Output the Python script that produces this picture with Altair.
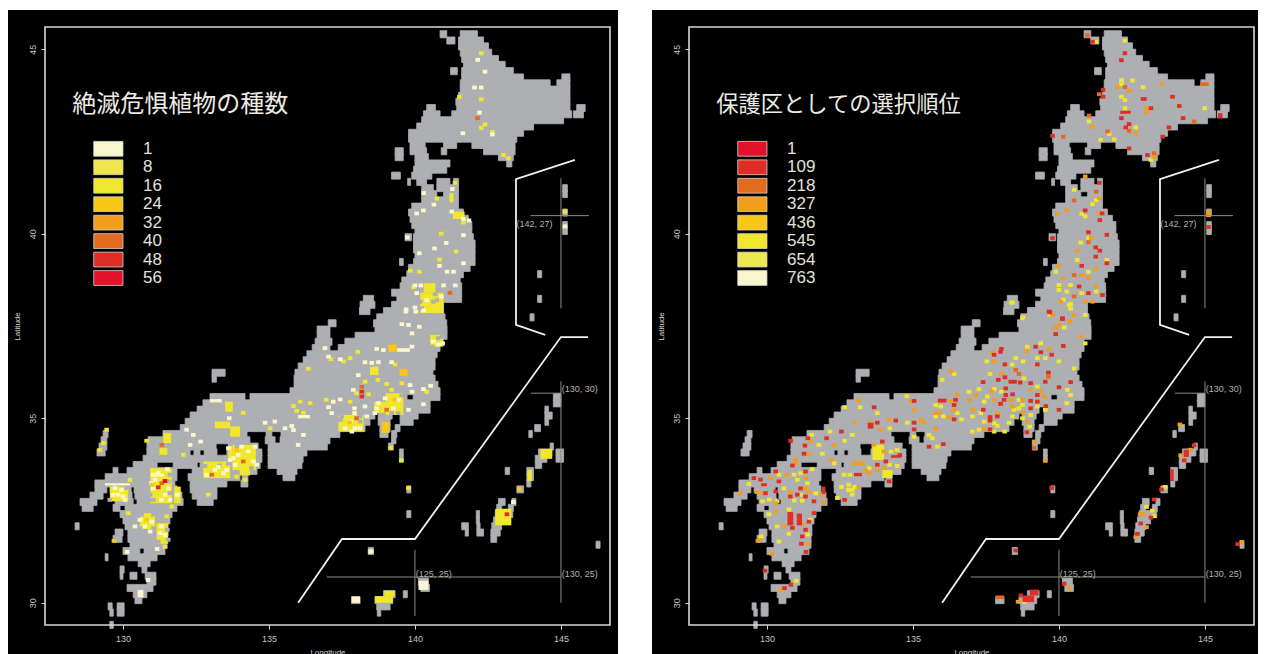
import altair as alt
import pandas as pd

# ---- land: (northern latitude of the band, [(west lon, east lon), ...]) ----
LAND = [
(45.5,[(141.55,142.14),(140.86,141.09)]),(45.33,[(141.49,142.35),(141.09,141.37)]),(45.17,[(141.49,142.52)]),
(45.0,[(141.55,142.63)]),(44.83,[(141.6,142.86)]),(44.67,[(141.66,143.09)]),(44.5,[(141.6,143.37),(141.22,141.45)]),
(44.33,[(141.6,143.72),(145.03,145.31)]),(44.17,[(141.55,144.63),(144.86,145.31)]),(44.0,[(141.55,145.31)]),
(43.83,[(141.49,145.31)]),(43.67,[(141.4,145.31)]),(43.5,[(141.43,145.31),(145.54,145.83),(140.4,140.7)]),
(43.33,[(140.29,140.86),(141.26,145.37),(145.43,145.77)]),(43.17,[(140.23,145.09)]),(43.0,[(140.06,144.06)]),
(42.83,[(139.78,143.72)]),(42.67,[(139.78,143.49)]),(42.5,[(139.83,140.35),(140.98,141.43),(141.95,143.43)]),
(42.33,[(139.83,140.4),(140.9,141.09),(142.35,143.43),(139.32,139.6)]),(42.17,[(140.0,140.46),(142.86,143.37),(139.32,139.6)]),
(42.0,[(140.0,141.2),(143.14,143.32)]),(41.83,[(139.95,141.09)]),(41.67,[(139.89,140.58),(139.2,139.5)]),
(41.5,[(140.06,140.4),(140.75,141.2),(141.32,141.49),(139.75,139.85)]),(41.33,[(140.23,140.63),(140.75,141.49),(145.06,145.22)]),
(41.17,[(140.23,140.75),(140.98,141.49),(145.06,145.22)]),(41.0,[(140.23,141.49)]),(40.83,[(139.89,141.49)]),
(40.67,[(139.78,141.66),(145.06,145.22)]),(40.5,[(139.83,141.83)]),(40.33,[(139.89,141.95),(145.06,145.22)]),
(40.17,[(140.0,141.95),(145.06,145.22)]),(40.0,[(139.66,139.89),(139.95,142.0)]),(39.83,[(139.95,142.06)]),
(39.67,[(139.95,142.06)]),(39.5,[(140.0,142.06)]),(39.33,[(139.95,142.06),(139.47,139.6)]),(39.17,[(139.78,141.89)]),
(39.0,[(139.72,141.66),(144.2,144.34)]),(38.83,[(139.55,141.55)]),(38.67,[(139.49,141.6)]),(38.5,[(139.43,141.6),(139.2,139.43)]),
(38.33,[(139.38,141.6),(138.23,138.58),(144.2,144.34)]),(38.17,[(139.2,140.98),(138.12,138.63)]),(38.0,[(138.92,140.98),(138.1,138.46)]),
(37.83,[(138.69,141.03),(143.94,144.08)]),(37.67,[(138.58,141.09),(137.03,137.3)]),
(37.5,[(136.65,137.09),(138.63,141.1)]),(37.33,[(136.65,137.09),(137.95,141.1)]),(37.17,[(136.58,137.16),(137.6,140.86)]),
(37.0,[(136.48,137.09),(137.37,140.86)]),(36.83,[(136.3,140.76)]),(36.67,[(136.17,140.69)]),(36.5,[(136.0,140.69)]),
(36.33,[(135.89,140.62),(133.05,133.5)]),(36.17,[(135.86,140.69),(133.05,133.2)]),(36.0,[(135.86,140.79)]),(35.83,[(135.72,140.86)]),
(35.67,[(132.98,134.18),(134.35,139.73),(139.94,140.86),(144.74,145.0)]),(35.5,[(132.74,140.52),(144.74,145.0)]),
(35.33,[(132.54,139.32),(139.49,140.52),(144.45,144.57)]),(35.17,[(132.3,138.63),(138.74,139.22),(139.49,140.11),(144.45,144.7)]),
(35.0,[(132.13,138.46),(138.74,139.15),(139.49,139.94),(144.45,144.58)]),(34.83,[(131.96,138.29),(138.8,139.15),(139.32,139.49),(144.1,144.3)]),
(34.67,[(129.32,129.49),(131.37,134.25),(134.9,135.1),(135.41,137.43),(138.8,139.08),(139.2,139.38),(143.9,144.02)]),
(34.5,[(129.25,129.45),(130.86,134.35),(134.87,135.21),(135.38,137.09),(139.2,139.35)]),
(34.33,[(129.18,129.45),(130.82,133.19),(133.6,134.63),(134.97,137.0),(139.09,139.26),(144.63,144.74)]),
(34.17,[(129.11,129.39),(130.82,132.3),(132.43,132.64),(132.78,133.22),(133.56,134.76),(134.97,136.3),(144.23,144.69),(144.83,145.09),(139.47,139.6)]),
(34.0,[(130.69,134.76),(134.97,136.17),(144.12,144.52),(144.83,145.09),(139.47,139.6)]),
(33.83,[(130.35,131.17),(131.72,132.54),(132.64,134.7),(134.97,136.13),(144.12,144.34)]),
(33.67,[(129.66,129.83),(130.14,131.85),(132.37,134.59),(135.28,135.96),(143.83,144.06),(143.09,143.24)]),
(33.5,[(129.39,131.85),(132.23,134.01),(134.08,134.28),(135.48,135.89),(143.83,144.06)]),
(33.33,[(129.04,131.78),(132.3,133.56),(134.04,134.28),(143.83,143.97)]),
(33.17,[(129.04,129.45),(129.56,130.28),(130.38,131.85),(132.3,133.22),(139.72,139.86),(143.49,143.72)]),
(33.0,[(128.87,129.32),(129.66,130.31),(130.41,132.02),(132.37,133.22)]),
(32.83,[(128.53,129.11),(129.73,130.35),(130.48,132.06),(132.54,133.09),(142.86,143.09),(143.32,143.46)]),
(32.67,[(128.6,128.98),(129.66,129.9),(130.07,131.85),(142.8,142.97),(143.2,143.37)]),
(32.5,[(129.9,131.68),(139.72,139.86),(142.75,143.35),(142.1,142.21)]),
(32.33,[(130.0,131.61),(142.69,143.14),(142.1,142.21)]),
(32.17,[(130.07,131.54),(128.36,128.5),(142.63,142.97),(141.6,141.83),(142.12,142.23)]),
(32.0,[(130.17,131.54),(129.73,130.0),(142.6,142.92),(141.72,141.83),(142.12,142.35)]),
(31.83,[(130.17,131.51),(129.66,129.97),(142.6,142.8)]),(31.67,[(130.24,131.51),(146.2,146.34)]),
(31.5,[(130.0,130.58),(130.72,131.44),(138.4,138.58)]),(31.33,[(130.17,131.17),(129.39,129.49)]),
(31.17,[(130.52,130.93)]),(31.0,[(130.65,130.82),(129.9,130.04)]),(30.83,[(129.9,130.0),(130.24,130.48),(130.76,131.13)]),
(30.67,[(130.82,131.13),(140.12,140.46)]),(30.5,[(130.14,131.03),(140.2,140.5)]),
(30.33,[(130.35,130.82),(139.6,139.74),(138.92,139.32)]),(30.17,[(130.41,130.65),(137.83,138.12),(138.63,139.24)]),
(30.0,[(129.8,130.04),(129.49,129.63),(138.69,139.15)]),(29.83,[(129.8,130.04),(129.55,129.67),(138.71,138.83)]),
(29.5,[(129.55,129.67)]),
]

# ---- left panel: number of endangered species, cells (lon, lat) by class ----
L_PALE = [(142.15,44.71),(142.4,44.39),(142.04,43.96),(142.27,43.96),(142.21,43.28),(141.64,42.72),(142.65,42.69),
(140.3,41.1),(141.28,41.21),(140.65,40.79),(140.29,40.63),(140.06,40.55),(141.26,40.6),(141.66,40.4),(141.85,40.36),(141.66,39.96),
(139.74,39.9),(141.07,39.75),(140.67,39.6),(140.15,39.47),(141.66,39.2),(140.84,39.13),(141.1,38.97),(141.32,38.97),(140.0,38.6),(140.2,38.6),
(140.98,38.6),(141.38,38.6),(139.7,37.95),(140.0,38.0),(139.69,37.89),(140.03,37.89),(139.55,37.55),(139.78,37.53),(140.15,37.48),(139.9,37.3),
(138.69,36.88),(138.92,36.85),(139.9,36.94),(137.04,36.67),(137.44,36.6),(136.92,36.9),(138.29,36.52),(138.52,36.5),(138.75,36.52),(139.2,36.52),
(138.06,36.17),(137.89,35.77),(139.83,35.9),(139.9,35.72),(140.29,35.79),(140.54,35.88),(137.44,35.51),(137.2,35.45),(137.04,35.3),(137.15,35.14),
(138.29,35.32),(137.93,35.27),(137.93,35.14),(140.29,35.38),(139.78,35.23),(138.35,35.05),(134.87,34.88),(135.2,34.91),(135.55,34.73),(135.78,34.79),
(135.84,34.68),(136.18,34.55),(136.0,34.28),(133.64,35.0),(132.18,34.69),(132.41,34.55),(132.3,34.28),(132.66,34.37),(130.41,32.07),(130.93,31.93),
(130.14,31.38),(131.17,31.46),(130.86,30.62),(145.14,40.2),(143.37,32.73),
(133.78,33.92),(133.95,34.01),(134.29,34.1),(134.47,33.83),(134.52,34.23),(133.67,33.87),(134.07,34.23),(133.84,33.74),(134.58,33.74),(133.61,34.19),
(133.27,33.68),(133.44,33.51),(132.87,33.47),(133.15,33.6),(133.55,33.6),
(131.04,33.47),(131.21,33.53),(130.98,33.24),(131.04,33.1),(131.55,33.1),(131.44,32.93),(131.32,32.79),(131.61,32.79),(131.1,33.33),(131.52,33.62),(131.86,32.93),
(129.84,32.93),(130.0,32.88),(129.73,33.11),(129.95,33.06),(130.07,32.79),(129.67,32.93),
(130.98,32.2),(130.75,32.07),(130.58,32.25),(131.32,32.07),(131.44,31.84),(131.27,31.89),
(138.69,35.27),(138.63,35.14),(138.75,35.41),(138.98,35.54),(139.43,35.5),(139.26,35.27),
(137.78,34.91),(137.61,34.73),(137.95,34.73),(138.12,34.73),(137.84,34.64),
(140.63,37.08),(140.8,37.0),(140.95,37.03),(140.06,38.39),(140.4,38.2),(140.9,38.3),(140.3,37.92)]
L_PALE_BLOCKS = [(132.98,133.38,35.43,35.52),(139.38,139.83,36.8,36.9),(136.0,136.4,35.0,35.09),(130.5,130.7,30.15,30.35),
(131.0,131.4,33.42,33.5),(129.38,130.24,33.18,33.24),
(138.4,138.58,31.33,31.45),(140.12,140.46,30.35,30.6),(137.83,138.12,30.0,30.17)]
L_Y8 = [(142.27,44.89),(141.52,43.71),(142.27,43.64),(142.4,42.96),(142.27,42.87),(142.65,42.76),(143.03,42.13),(143.2,42.04),(141.37,41.38),(140.75,40.95),(140.9,40.0),
(139.95,38.55),(140.15,38.97),(139.84,39.0),(141.41,39.52),(140.84,39.3),(141.66,40.3),(138.04,36.8),(137.78,36.63),(137.55,36.54),(137.12,36.6),(139.32,36.46),(136.35,36.34),
(138.29,35.99),(138.73,36.04),(139.03,35.93),(139.55,35.95),(138.0,35.68),(138.41,35.65),(139.2,35.77),(140.4,35.72),(137.78,35.45),(136.96,35.5),
(135.04,34.73),(135.84,35.33),(136.07,35.45),(136.41,35.41),(134.12,35.15),(130.81,34.39),(132.07,34.01),(134.18,33.33),(133.89,33.42),(132.92,32.93),
(130.24,33.33),(130.18,32.43),(131.5,32.34),(131.67,32.61),(129.33,34.33),(129.21,34.14),(129.44,34.69),(131.44,31.52),(139.17,34.2),(139.53,33.86),(139.78,33.11),(145.14,40.6),(136.18,35.15),(135.95,35.2)]
L_Y_BLOCKS = [(140.18,140.98,37.85,38.4),(140.3,140.7,38.4,38.66),(140.52,140.98,36.94,37.26),(141.3,141.7,40.4,40.6),(141.18,141.32,40.85,41.1),(138.46,138.75,36.17,36.4),
(139.0,139.6,35.09,35.68),(138.6,139.0,35.15,35.45),(137.38,138.24,34.64,35.09),(133.5,133.76,35.18,35.45),(133.15,133.67,34.73,34.91),(133.67,134.01,34.5,34.78),(131.38,131.65,34.33,34.6),
(131.25,131.52,34.01,34.19),(133.75,134.55,33.6,34.28),(133.6,133.75,33.85,34.25),(134.0,134.35,33.45,33.6),(132.75,133.67,33.38,33.83),(130.93,131.67,32.7,33.65),(131.75,131.98,32.7,33.15),(129.55,130.18,32.75,33.15),
(130.58,131.1,32.0,32.43),(131.15,131.55,31.6,32.16),(144.3,144.7,33.9,34.17),(143.85,144.0,33.3,33.6),(142.75,143.3,32.1,32.55),(138.63,139.24,30.0,30.18),(138.95,139.3,30.18,30.33)]
# grey gaps left inside the clusters above
L_GAPS = [(133.3,33.72),(132.81,33.71),(133.61,33.77),(131.61,33.47),(130.93,32.93),(131.61,32.97),(130.93,32.79),(131.04,32.79),(131.55,33.29),
(129.55,32.79),(130.13,33.11),(131.04,32.39),(130.6,32.02),(131.04,32.02),(130.64,32.39),(131.52,31.98),(131.21,31.66),(131.55,31.71),
(139.43,35.14),(139.2,35.14),(139.55,35.62),(137.49,35.05),(138.12,35.05),(138.0,35.0),(137.44,34.96),(138.12,34.91),
(140.8,37.17),(140.58,36.94),(140.92,37.21),(140.63,38.16),(140.75,38.2),(140.69,38.36),(140.18,38.16),(140.23,37.98),(134.4,33.65),(133.9,34.25)]
L_AMBER = [(130.81,32.25),(129.69,31.68),(133.9,34.14),(131.0,33.2),(143.57,33.08),(139.3,35.5),(137.76,34.89)]
L_AMBER_BLOCKS = [(139.09,139.38,36.8,37.0),(139.47,139.75,36.15,36.34),(138.86,139.13,34.6,34.9)]
L_ORANGE = [(142.14,43.13),(138.18,35.85),(141.2,38.4),(139.03,35.23),(131.33,34.28),(134.12,33.83),(133.04,33.47),(131.33,33.24),(138.0,35.0)]
L_RED = [(138.18,35.72),(138.18,35.59),(131.21,33.13),(143.15,32.4)]
L_CRIMSON = [(131.44,33.3)]

# ---- right panel: selection order of protected areas ----
R_RED = [(141.15,45.2),(142.26,44.89),(142.14,44.7),(141.51,43.9),(141.51,43.71),(143.89,43.71),(144.12,43.46),(143.15,43.4),(142.14,43.13),(144.25,43.13),(142.4,42.97),(142.29,42.88),
(143.77,42.88),(143.55,42.63),(142.4,42.31),(143.03,42.13),(139.78,42.65),(141.38,41.38),(140.9,40.63),(141.4,40.37),(141.48,40.55),(141.01,40.04),(141.64,39.97),(139.78,39.88),(141.26,39.63),
(141.4,39.54),(141.26,39.38),(141.64,39.2),(140.78,39.13),(140.69,38.57),(141.01,38.39),(141.49,38.34),(139.66,37.89),(140.12,37.69),
(139.69,37.87),(140.12,37.71),(139.89,37.28),(140.15,36.96),(139.2,36.94),(139.38,36.79),(139.75,36.72),(139.26,36.46),(138.03,36.88),(138.0,36.8),(137.78,36.72),(138.15,36.46),
(137.4,35.98),(137.92,36.04),(138.15,36.11),(138.35,35.99),(138.48,35.99),(138.67,35.97),(139.64,36.24),(139.53,35.99),(139.03,35.95),(140.4,35.98),
(138.18,35.81),(138.18,35.63),(138.12,35.5),(138.41,35.65),(138.0,35.39),(137.41,35.23),(137.89,35.05),(137.64,35.03),(137.64,34.94),(137.64,34.7),
(139.03,35.47),(139.26,35.63),(139.26,35.45),(139.03,35.27),(139.55,35.33),(138.9,34.62),(140.0,35.84),(140.0,35.23),
(136.07,35.48),(135.93,35.48),(136.46,35.5),(136.41,35.36),(136.41,34.97),(135.04,35.47),(135.04,34.88),(135.04,34.7),(136.04,34.3),(135.55,34.23),
(133.67,35.3),(134.41,34.94),(133.78,34.88),(132.55,34.64),(132.04,34.46),(131.4,34.46),(131.3,34.26),(130.81,34.39),(131.27,34.04),(130.87,33.72),
(133.95,34.37),(134.07,33.83),(133.78,33.74),(134.18,33.29),(134.55,34.0),(129.55,33.38),(129.78,33.34),(130.3,33.56),(130.41,33.29),(131.32,33.56),(131.15,33.1),(131.04,32.93),(130.8,32.88),(131.32,32.88),(131.61,32.75),
(129.95,32.97),(130.3,33.02),(131.61,32.43),(131.44,32.2),(131.32,31.98),(131.21,31.8),(131.18,31.6),(130.87,32.03),(132.66,32.79),
(131.34,31.38),(129.93,30.87),(130.6,30.4),(130.82,30.49),(139.75,33.11),(144.63,34.27),(144.29,33.86),(143.51,33.07),(143.26,32.8),(143.15,32.31),(142.8,32.15),(142.69,31.87),(146.12,31.59),(138.52,31.42),(140.18,30.52),(145.12,40.18),(138.7,30.2)]
R_RED_BLOCKS = [(142.8,143.0,43.6,43.7),(142.1,142.46,43.25,43.33),(145.45,145.6,43.13,43.27),(133.45,133.65,34.72,34.88),(134.25,134.58,33.93,34.0),(129.8,130.0,33.16,33.24),(131.88,132.0,32.95,33.15),
(132.98,133.25,33.43,33.52),(130.7,130.9,32.1,32.46),(131.02,131.2,32.1,32.42),(144.27,144.45,33.95,34.15),(143.81,143.93,33.3,33.62),(138.75,139.15,30.02,30.2),(139.0,139.3,30.2,30.36)]
R_ORANGE = [(140.98,45.38),(142.26,43.97),(141.38,43.78),(144.63,43.04),(141.03,43.2),(142.4,42.79),(141.66,42.77),(143.26,42.18),(140.15,42.63),(141.28,41.14),(140.52,40.9),(141.01,39.77),(140.52,38.88),(140.52,38.3),
(138.52,36.31),(138.63,36.2),(139.64,36.13),(139.15,34.2)]
R_ORANGE_BLOCKS = [(144.83,145.13,44.0,44.1),(137.84,138.12,30.1,30.2)]
R_AMBER = [(143.51,44.05),(142.0,43.97),(142.4,43.87),(143.0,43.4),(143.0,43.29),(141.15,42.9),(142.63,42.72),(143.26,42.07),(140.9,41.55),(141.38,40.96),(140.27,40.63),(141.4,40.55),(139.95,40.54),(141.11,39.88),
(140.63,39.54),(139.98,39.13),(141.28,39.05),(140.78,38.88),(140.15,38.79),(141.01,38.8),(141.26,38.57),(140.9,38.16),(139.78,37.8),(140.52,37.8),(140.0,37.53),
(140.06,38.16),(141.15,38.16),(140.37,37.62),(139.89,37.46),(140.75,37.21),(138.89,36.82),(139.66,36.87),(137.72,36.78),(137.78,36.54),(136.3,36.28),(138.03,36.2),
(138.35,35.5),(137.15,35.63),(137.69,35.73),(136.92,35.5),(137.78,35.5),(137.04,35.23),(137.89,35.14),(137.44,34.73),(138.41,35.32),
(138.75,35.5),(139.03,35.77),(139.49,35.59),(139.38,35.73),(138.77,35.15),(138.92,34.9),(135.04,35.22),(134.92,35.47),(135.27,34.95),(135.36,34.89),
(135.9,35.14),(135.78,35.14),(136.3,35.45),(136.52,35.64),(136.41,35.22),(136.23,35.02),(135.78,34.71),
(133.12,35.48),(134.18,34.97),(133.0,34.88),(133.55,34.88),(133.89,34.69),(132.3,34.28),(131.5,34.37),(131.45,34.04),(132.2,33.88),(130.99,33.88),(130.98,33.78),
(133.66,34.28),(134.0,34.1),(134.0,33.65),(133.38,33.58),(133.5,33.51),(133.78,33.6),(132.98,33.78),(133.15,33.78),(133.28,33.78),(133.15,33.14),(130.13,33.38),(130.68,33.47),(131.33,33.38),(131.32,33.1),(130.81,33.0),(131.44,33.0),
(131.88,32.92),(131.95,32.72),(129.67,33.0),(129.87,32.97),(129.08,32.97),(130.3,32.7),(130.3,32.47),(130.58,32.07),(131.2,32.14),(131.4,31.6),(129.69,31.68),(130.17,31.33),(129.73,31.7),(130.48,30.35),
(139.15,34.37),(139.53,33.86),(144.14,34.83),(144.5,34.15),(144.17,34.0),(142.9,32.4),(142.78,32.4),(143.0,32.05),(142.63,31.78),(146.26,31.65),(140.35,30.41),(138.6,30.03),(145.12,40.6),(145.12,40.5)]
R_YELLOW = [(141.26,45.2),(142.26,45.23),(142.14,44.16),(142.14,44.05),(142.52,44.15),(142.88,43.97),(142.14,43.71),(142.26,43.62),(144.99,43.4),(142.26,43.4),(141.03,43.04),(142.63,42.88),(141.72,42.7),(141.43,42.54),(141.89,42.56),(143.15,42.0),
(140.52,41.19),(141.28,40.91),(141.15,40.8),(140.9,40.47),(140.78,40.54),(141.01,39.88),(140.75,39.76),(140.63,39.29),(141.64,39.29),(139.89,38.97),(141.01,38.97),(140.0,38.61),(140.0,38.48),(140.4,38.61),(140.27,38.43),(140.78,38.39),(141.28,38.43),(140.15,38.21),(140.4,38.1),(140.4,37.97),(138.38,38.14),(138.75,37.71),(140.9,37.8),
(138.41,38.13),(138.77,37.74),(139.69,37.8),(140.35,38.07),(140.18,37.46),(140.9,37.03),(139.38,37.03),(138.92,36.94),(139.53,36.63),(139.26,36.63),(140.0,36.54),(137.53,36.54),(138.52,36.63),(138.77,36.54),(138.4,36.46),(136.41,36.2),(136.0,36.04),(137.64,36.2),(138.8,36.08),(140.52,36.35),
(138.03,35.72),(137.78,35.79),(137.26,35.79),(136.92,35.72),(137.55,35.59),(137.44,35.45),(137.32,35.14),(137.04,35.05),(137.44,34.91),(137.78,34.87),(137.89,34.8),(137.26,34.69),(137.04,34.64),(138.14,34.64),(137.78,34.64),(138.29,34.88),(138.41,35.05),(138.46,35.23),
(138.63,35.5),(139.26,35.86),(138.75,35.36),(138.63,35.27),(139.26,35.32),(139.03,35.09),(138.75,35.0),(139.0,34.77),(140.29,35.77),(140.4,35.63),(140.27,35.41),(139.53,35.23),
(135.78,35.36),(135.95,35.32),(135.78,35.05),(136.04,35.05),(136.52,35.14),(136.66,34.97),(134.79,35.6),(134.81,34.88),(135.55,34.55),(135.66,34.46),(135.84,34.23),(135.04,34.5),
(132.66,35.3),(133.19,35.3),(133.78,35.14),(132.16,34.64),(132.92,34.55),(134.21,34.73),(132.66,34.39),(131.78,34.28),(131.53,34.55),(131.9,34.04),(132.3,33.78),
(134.25,34.1),(134.46,34.14),(134.2,33.74),(134.46,33.71),(132.84,33.47),(132.64,33.47),(133.5,33.65),(132.55,33.14),(133.0,33.14),(132.41,32.84),(132.92,32.93),(132.8,33.2),
(130.41,33.47),(130.93,33.47),(131.15,33.51),(131.55,33.62),(131.38,33.24),(131.04,33.33),(131.15,32.93),(130.93,32.77),(131.21,32.77),(131.67,32.97),(130.58,33.1),(129.38,33.22),(130.35,32.75),(129.85,32.75),(130.08,32.8),
(130.07,32.4),(130.75,32.53),(130.35,32.07),(131.48,32.25),(131.4,31.85),(130.75,31.87),(130.41,31.66),(129.8,31.8),(131.0,30.6),(143.64,33.14),(143.0,32.6),(143.2,32.5),(143.26,32.35),(138.82,30.03)]
R_Y_BLOCKS = [(133.61,134.01,33.87,34.28),(133.95,134.3,33.38,33.6),(132.72,133.0,33.0,33.12)]

LEFT_VALUES = [1, 8, 16, 24, 32, 40, 48, 56]
RIGHT_VALUES = [1, 109, 218, 327, 436, 545, 654, 763]
RAMP = ["#fbf6cd", "#efe74f", "#f0e62c", "#f6c717", "#f29d1e", "#e46a22", "#df2e25", "#df1229"]
RIGHT_RAMP = list(reversed(RAMP))
LEGEND_LATS = [42.5, 42.0, 41.5, 41.0, 40.5, 40.0, 39.5, 39.0]
GRAY = "#adafb2"
INK = "#d8d8d2"
LON_DOMAIN = [127.33, 146.68]
LAT_DOMAIN = [29.4, 45.6]
LON_TICKS = [130, 135, 140, 145]
LAT_TICKS = [30, 35, 40, 45]

INSET_LINES = {
    "a": [(145.48, 42.0), (143.46, 41.48), (143.46, 37.53), (144.46, 37.26)],
    "b": [(145.93, 37.2), (145.0, 37.2), (140.0, 31.73), (137.5, 31.73), (136.0, 30.0)],
}
CROSS_LINES = [(145.0, 37.98, 145.0, 41.5), (143.96, 40.49, 145.96, 40.49), (145.0, 30.0, 145.0, 36.0),
               (143.97, 35.68, 145.0, 35.68), (136.98, 30.7, 145.0, 30.7), (140.0, 29.64, 140.0, 31.44)]
CROSS_LABELS = [(143.48, 40.27, "(142, 27)"), (145.03, 35.78, "(130, 30)"), (140.03, 30.78, "(125, 25)"), (145.03, 30.78, "(130, 25)")]

land_df = pd.DataFrame([dict(w=a, e=b, s=lat - 1/6 - 0.025, n=lat) for lat, runs in LAND for a, b in runs])
inset_df = pd.DataFrame([dict(lon=p[0], lat=p[1], g=k, i=i) for k, pts in INSET_LINES.items() for i, p in enumerate(pts)])
cross_df = pd.DataFrame(CROSS_LINES, columns=["w", "s", "e", "n"])
label_df = pd.DataFrame(CROSS_LABELS, columns=["lon", "lat", "t"])


def cell_rows(groups):
    rows = []
    for cls, cells, blocks in groups:
        for lon, lat in cells:
            rows.append(dict(w=lon - 0.078, e=lon + 0.078, s=lat - 0.052, n=lat + 0.052, c=cls))
        for w, e, s, n in blocks:
            rows.append(dict(w=w, e=e, s=s, n=n, c=cls))
    return pd.DataFrame(rows)


def X(f):
    return alt.X(f, type="quantitative", scale=alt.Scale(domain=LON_DOMAIN, nice=False, zero=False),
                 axis=alt.Axis(values=LON_TICKS, title="Longitude", grid=False, domain=False, zindex=2,
                               tickColor=INK, labelColor="#c4c4be", titleColor=INK, labelFontSize=9, titleFontSize=8,
                               labelFont="Liberation Sans", titleFont="Liberation Sans", titleFontWeight="normal",
                               tickSize=4, labelPadding=5, titlePadding=5, labelFlush=False))


def Y(f):
    return alt.Y(f, type="quantitative", scale=alt.Scale(domain=LAT_DOMAIN, nice=False, zero=False),
                 axis=alt.Axis(values=LAT_TICKS, title="Latitude", grid=False, domain=False, zindex=2,
                               tickColor=INK, labelColor="#c4c4be", titleColor=INK, labelFontSize=9, titleFontSize=8,
                               labelFont="Liberation Sans", titleFont="Liberation Sans", titleFontWeight="normal",
                               labelAngle=270, labelAlign="center", labelBaseline="bottom",
                               tickSize=4, labelPadding=4, titlePadding=7, labelFlush=False))


def panel(title, tsize, values, ramp, groups, bg_w):
    domain = list(range(9))
    color = alt.Color("c:N", scale=alt.Scale(domain=domain, range=ramp + [GRAY]), legend=None)
    black = alt.Chart(pd.DataFrame({"a": [0]})).mark_rect(color="black").encode(
        x=alt.value(-37), x2=alt.value(bg_w), y=alt.value(-17), y2=alt.value(627))
    land = alt.Chart(land_df).mark_rect(color=GRAY, stroke=GRAY, strokeWidth=0.8).encode(
        x=X("w"), x2="e", y=Y("s"), y2="n")
    cells = alt.Chart(cell_rows(groups)).mark_rect().encode(
        x=X("w"), x2="e", y=Y("s"), y2="n", color=color)
    inset = alt.Chart(inset_df).mark_line(color="#f2f2ec", strokeWidth=1.8).encode(
        x=X("lon"), y=Y("lat"), detail="g:N", order="i:Q")
    cross = alt.Chart(cross_df).mark_rule(color="#8f8a80", strokeWidth=1).encode(
        x=X("w"), x2="e", y=Y("s"), y2="n")
    labels = alt.Chart(label_df).mark_text(color="#b5b3ab", fontSize=9, align="left", font="Liberation Sans").encode(
        x=X("lon"), y=Y("lat"), text="t:N")
    leg_df = pd.DataFrame(dict(w=[129.0] * 8, e=[130.0] * 8, n=LEGEND_LATS, s=[v - 0.4 for v in LEGEND_LATS],
                               c=list(range(8)), v=[str(v) for v in values], tx=[130.69] * 8, ty=[v - 0.2 for v in LEGEND_LATS]))
    swatch = alt.Chart(leg_df).mark_rect(stroke="#d9d6c8", strokeWidth=0.8).encode(
        x=X("w"), x2="e", y=Y("s"), y2="n", color=color)
    leg_text = alt.Chart(leg_df).mark_text(color="#e2e2dc", fontSize=17, align="left", font="Liberation Sans").encode(
        x=X("tx"), y=Y("ty"), text="v:N")
    head = alt.Chart(pd.DataFrame(dict(lon=[128.26], lat=[43.48], t=[title]))).mark_text(
        color="#ecebe4", fontSize=tsize, align="left", font="Noto Sans CJK JP").encode(
        x=X("lon"), y=Y("lat"), text="t:N")
    frame = alt.Chart(pd.DataFrame({"a": [0]})).mark_rect(fill=None, stroke=INK, strokeWidth=1.6).encode(
        x=alt.value(0), x2=alt.value(565), y=alt.value(0), y2=alt.value(598))
    return alt.layer(black, land, cells, inset, cross, labels, swatch, leg_text, head, frame).properties(width=565, height=598)


left = panel("絶滅危惧植物の種数", 24, LEFT_VALUES, RAMP, [
    (2, L_Y8, L_Y_BLOCKS),
    (8, L_GAPS, []),
    (0, L_PALE, L_PALE_BLOCKS),
    (3, L_AMBER, L_AMBER_BLOCKS),
    (5, L_ORANGE, []),
    (6, L_RED, []),
    (7, L_CRIMSON, []),
], 573)
right = panel("保護区としての選択順位", 22.3, RIGHT_VALUES, RIGHT_RAMP, [
    (5, R_YELLOW, R_Y_BLOCKS),
    (3, R_AMBER, []),
    (2, R_ORANGE, R_ORANGE_BLOCKS),
    (1, R_RED, R_RED_BLOCKS),
], 569)

chart = alt.hconcat(left, right, spacing=34).resolve_scale(color="independent").properties(
    padding={"left": 0, "top": 2, "right": 0, "bottom": 0}, background="white"
).configure_view(stroke=None)

chart.save("out.html", embed_options={"renderer": "svg", "actions": False})
